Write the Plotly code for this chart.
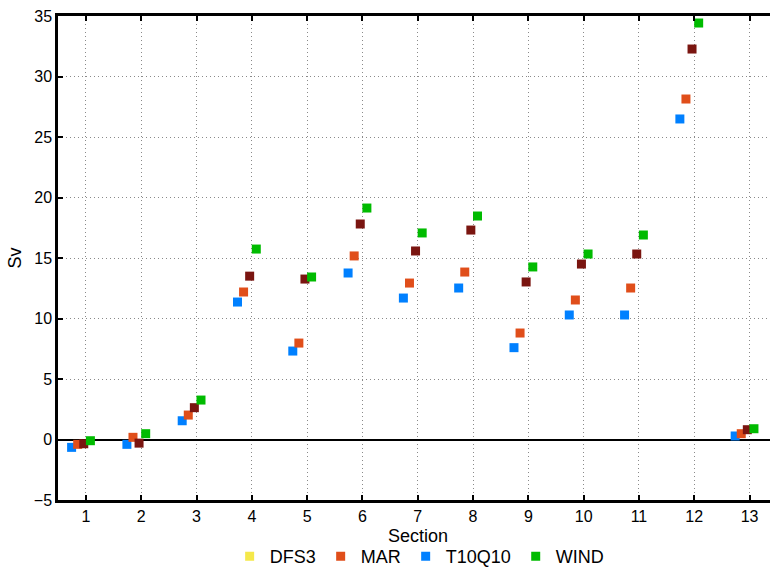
import plotly.graph_objects as go

sections = list(range(1, 14))
t10q10 = [-0.65, -0.4, 1.55, 11.36, 7.31, 13.76, 11.69, 12.52, 7.59, 10.29, 10.29, 26.49, 0.29]
mar = [-0.4, 0.18, 2.02, 12.19, 7.97, 15.17, 12.93, 13.84, 8.80, 11.53, 12.52, 28.14, 0.48]
ref = [-0.35, -0.3, 2.63, 13.5, 13.26, 17.81, 15.58, 17.31, 13.02, 14.5, 15.33, 32.27, 0.81]
wind = [-0.1, 0.48, 3.26, 15.74, 13.43, 19.13, 17.07, 18.47, 14.26, 15.33, 16.9, 34.42, 0.89]
dfs3 = [None] * 13

# name, values, colour, x offset, in legend, legend rank
series = [
    ("DFS3", dfs3, "#F5E84A", -0.37, True, 1),
    ("T10Q10", t10q10, "#0080FF", -0.26, True, 3),
    ("MAR", mar, "#E04E1A", -0.15, True, 2),
    ("REF", ref, "#7A1510", -0.04, False, 5),
    ("WIND", wind, "#00BB00", 0.08, True, 4),
]

fig = go.Figure()
for n, vals, col, off, show, rank in series:
    fig.add_trace(go.Scatter(
        x=[s + off for s in sections], y=vals, mode="markers", name=n,
        marker=dict(symbol="square", size=9, color=col, line=dict(width=0)),
        showlegend=show, legendrank=rank,
    ))

grid = dict(showgrid=True, gridcolor="#8a8a8a", griddash="1px,3px", gridwidth=1)
fig.update_layout(
    width=770, height=568,
    margin=dict(l=58, r=0, t=16, b=68, autoexpand=False),
    plot_bgcolor="white", paper_bgcolor="white",
    font=dict(family="Liberation Sans, Arial, sans-serif", size=16, color="black"),
    showlegend=True,
    legend=dict(orientation="h", xref="container", yref="container",
                x=0.545, xanchor="center", y=0.02, yanchor="middle",
                font=dict(size=18)),
    xaxis=dict(range=[0.494, 13.37], tickvals=sections, ticks="inside", ticklen=5,
               tickwidth=2, tickcolor="black", showline=True, linewidth=2.5, linecolor="black",
               mirror="ticks", zeroline=False, automargin=False,
               tickfont=dict(size=16), **grid),
    yaxis=dict(range=[-5, 35], ticks="inside", ticklen=5, tickwidth=2,
               tickcolor="black", showline=True, linewidth=2.5, linecolor="black",
               zeroline=True, zerolinecolor="black", zerolinewidth=2, automargin=False,
               tickvals=[-5, 0, 5, 10, 15, 20, 25, 30, 35],
               ticktext=["\u22125", "0", "5", "10", "15", "20", "25", "30", "35"],
               tickfont=dict(size=16),
               title=dict(text="Sv", standoff=8, font=dict(size=18)), **grid),
    annotations=[dict(text="Section", xref="paper", yref="paper", x=0.505, y=-0.074,
                      xanchor="center", yanchor="middle", showarrow=False,
                      font=dict(size=18))],
)
fig.write_html("out.html", config={"displayModeBar": False},
               post_script="document.body.style.margin='0';")
